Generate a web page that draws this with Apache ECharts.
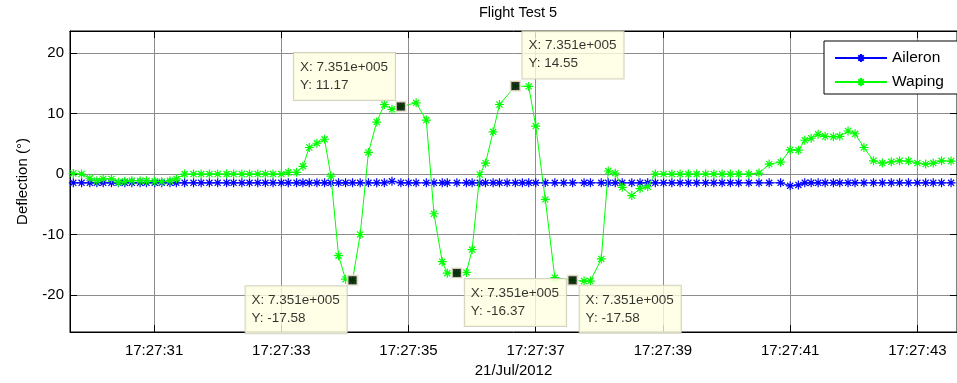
<!DOCTYPE html>
<html>
<head>
<meta charset="utf-8">
<title>Flight Test 5</title>
<script src="https://cdn.jsdelivr.net/npm/echarts@6/dist/echarts.min.js"></script>
<style>
  html, body { margin: 0; padding: 0; background: #ffffff; }
  #chart { width: 957px; height: 383px; }
</style>
</head>
<body>
<div id="chart"></div>
<script>
// Warping sample times, seconds after 17:27:00 on 21/Jul/2012
const wapingTimes = [
  29.73, 29.86, 29.99, 30.10, 30.20, 30.33, 30.44, 30.54, 30.65, 30.78,
  30.88, 31.01, 31.12, 31.25, 31.35, 31.48, 31.62, 31.74, 31.87, 32.00,
  32.14, 32.25, 32.38, 32.50, 32.63, 32.75, 32.87, 33.00, 33.11, 33.24,
  33.34, 33.44, 33.56, 33.68, 33.78, 33.90, 34.01, 34.12, 34.24, 34.37,
  34.50, 34.62, 34.74, 34.88, 35.12, 35.28, 35.40, 35.53, 35.61, 35.76,
  35.91, 36.00, 36.12, 36.21, 36.33, 36.43, 36.68, 36.89, 37.00, 37.15,
  37.30, 37.58, 37.76, 37.86, 38.03, 38.14, 38.25, 38.36, 38.51, 38.64,
  38.76, 38.88, 39.01, 39.14, 39.27, 39.40, 39.53, 39.67, 39.80, 39.93,
  40.06, 40.19, 40.35, 40.51, 40.67, 40.85, 41.00, 41.13, 41.23, 41.33,
  41.44, 41.55, 41.68, 41.78, 41.91, 42.02, 42.16, 42.31, 42.45, 42.59,
  42.72, 42.86, 43.00, 43.13, 43.25, 43.38, 43.53
];

// Warping deflection (degrees)
const waping = [
   0.10,  0.00, -0.70, -1.10, -0.80, -0.80, -1.36, -1.20, -1.10, -1.10,
  -1.10, -1.20, -1.27, -1.10, -0.80,  0.00,  0.00,  0.00,  0.00,  0.00,
   0.00,  0.00,  0.00,  0.00,  0.00,  0.00,  0.00,  0.00,  0.28,  0.28,
   1.27,  4.39,  5.09,  5.75, -0.33, -13.50, -17.40, -17.58, -10.00, 3.57,
   8.60, 11.50, 10.70, 11.17, 11.78,  8.92, -6.57, -14.50, -16.40, -16.37,
  -16.27, -12.50, -0.08,  1.80,  6.98, 11.50, 14.55, 14.50,  7.94, -4.19,
  -17.14, -17.58, -17.70, -17.70, -14.05,  0.50,  0.15, -2.20, -3.57, -2.40,
  -2.10,  0.00,  0.00,  0.00,  0.00,  0.00,  0.00,  0.00,  0.00,  0.00,
   0.00,  0.00,  0.00,  0.16,  1.64,  1.97,  3.99,  3.94,  5.59,  5.92,
   6.57,  6.24,  6.16,  6.24,  7.12,  6.66,  4.39,  2.19,  1.81,  2.02,
   2.19,  2.14,  1.81,  1.64,  1.81,  2.19,  2.14
];

// Aileron sample times (s after 17:27:00)
const aileronTimes = [
  29.73, 29.86, 29.99, 30.10, 30.20, 30.33, 30.44, 30.54, 30.65, 30.78,
  30.88, 31.01, 31.12, 31.25, 31.35, 31.48, 31.62, 31.74, 31.87, 32.00,
  32.14, 32.25, 32.38, 32.50, 32.63, 32.75, 32.87, 33.00, 33.11, 33.24,
  33.34, 33.44, 33.56, 33.68, 33.78, 33.90, 34.01, 34.12, 34.24, 34.37,
  34.50, 34.62, 34.74, 34.88, 35.00, 35.12, 35.28, 35.40, 35.53, 35.61,
  35.76, 35.91, 36.00, 36.12, 36.21, 36.33, 36.43, 36.55, 36.68, 36.79,
  36.89, 37.00, 37.15, 37.30, 37.44, 37.58, 37.76, 37.86, 38.03, 38.14,
  38.25, 38.36, 38.51, 38.64, 38.76, 38.88, 39.01, 39.14, 39.27, 39.40,
  39.53, 39.67, 39.80, 39.93, 40.06, 40.19, 40.35, 40.51, 40.67, 40.85,
  41.00, 41.13, 41.23, 41.33, 41.44, 41.55, 41.68, 41.78, 41.91, 42.02,
  42.16, 42.31, 42.45, 42.59, 42.72, 42.86, 43.00, 43.13, 43.25, 43.38,
  43.53
];

// Aileron deflection (degrees)
const aileron = [
  -1.45, -1.45, -1.45, -1.45, -1.45, -1.45, -1.45, -1.45, -1.45, -1.45,
  -1.45, -1.45, -1.45, -1.45, -1.45, -1.45, -1.45, -1.45, -1.45, -1.45,
  -1.45, -1.45, -1.45, -1.45, -1.45, -1.45, -1.45, -1.45, -1.45, -1.45,
  -1.45, -1.45, -1.45, -1.45, -1.45, -1.45, -1.45, -1.45, -1.45, -1.45,
  -1.45, -1.45, -1.20, -1.45, -1.45, -1.45, -1.45, -1.45, -1.45, -1.45,
  -1.45, -1.45, -1.45, -1.45, -1.45, -1.45, -1.45, -1.45, -1.45, -1.45,
  -1.45, -1.45, -1.45, -1.45, -1.45, -1.45, -1.45, -1.45, -1.45, -1.45,
  -1.45, -1.45, -1.45, -1.45, -1.45, -1.45, -1.45, -1.45, -1.45, -1.45,
  -1.45, -1.45, -1.45, -1.45, -1.45, -1.45, -1.45, -1.45, -1.45, -1.45,
  -1.95, -1.80, -1.45, -1.45, -1.45, -1.45, -1.45, -1.45, -1.45, -1.45,
  -1.45, -1.45, -1.45, -1.45, -1.45, -1.45, -1.45, -1.45, -1.45, -1.45,
  -1.45
];

// Data cursor readouts placed on the warping trace
const tipTimes  = [34.12, 34.88, 35.76, 36.68, 37.58];
const tipValues = [-17.58, 11.17, -16.37, 14.55, -17.58];
const tipXText  = '7.351e+005';
// Readout box offsets from each marker (px)
const tipOffsets = [[-101, 12], [-101, -47.5], [14, 12], [13, -48.5], [13, 11.5]];

// Axis ticks
const timeTicks = [31, 33, 35, 37, 39, 41, 43];
const timeTickLabels = ['17:27:31', '17:27:33', '17:27:35', '17:27:37', '17:27:39', '17:27:41', '17:27:43'];
const valueTicks = [-20, -10, 0, 10, 20];

const X_MIN = 29.678, X_MAX = 43.623;
const Y_MIN = -26.13, Y_MAX = 23.66;

const FONT = '"Liberation Sans", Arial, Helvetica, sans-serif';
const BLUE = '#0000ff';
const GREEN = '#00ff00';
const GRIDLINE = '#8c8c8c';

// Asterisk marker: horizontal, vertical and two diagonal strokes
const ASTERISK = 'path://M0,5L10,5M5,0L5,10M1.6,1.6L8.4,8.4M1.6,8.4L8.4,1.6';

const chart = echarts.init(document.getElementById('chart'), null, { renderer: 'canvas' });

const pairs = (xs, ys) => xs.map((x, i) => [x, ys[i]]);

const baseAxisTick = { show: true, inside: true, length: 7, lineStyle: { color: '#000', width: 1 } };

chart.setOption({
  animation: false,
  backgroundColor: '#ffffff',
  textStyle: { fontFamily: FONT },
  title: {
    text: 'Flight Test 5',
    left: 513, top: 0, textAlign: 'center',
    textStyle: { fontFamily: FONT, fontSize: 14.5, fontWeight: 'normal', color: '#000' }
  },
  legend: {
    orient: 'vertical',
    left: 824, top: 41,
    padding: [9, 17, 4, 10],
    itemGap: 8,
    itemWidth: 52,
    itemHeight: 10,
    backgroundColor: '#ffffff',
    borderColor: '#000000',
    borderWidth: 1,
    textStyle: { fontFamily: FONT, fontSize: 15.5, color: '#000' },
    data: ['Aileron', 'Waping']
  },
  grid: { left: 70, top: 31, width: 889, bottom: 49, show: true, borderColor: '#000', borderWidth: 1, backgroundColor: '#fff' },
  xAxis: [
    {
      type: 'value', min: X_MIN, max: X_MAX, position: 'bottom',
      name: '21/Jul/2012', nameLocation: 'middle', nameGap: 31,
      nameTextStyle: { fontFamily: FONT, fontSize: 15, color: '#000' },
      axisLine: { show: true, onZero: false, lineStyle: { color: '#000' } },
      axisTick: Object.assign({}, baseAxisTick, { customValues: timeTicks }),
      axisLabel: {
        customValues: timeTicks, margin: 11,
        fontFamily: FONT, fontSize: 15, color: '#000',
        formatter: v => timeTickLabels[timeTicks.indexOf(Math.round(v))] || ''
      },
      splitLine: { show: true, lineStyle: { color: GRIDLINE, width: 1 } }
    },
    {
      type: 'value', min: X_MIN, max: X_MAX, position: 'top',
      axisLine: { show: true, onZero: false, lineStyle: { color: '#000' } },
      axisTick: Object.assign({}, baseAxisTick, { customValues: timeTicks }),
      axisLabel: { show: false },
      splitLine: { show: false }
    }
  ],
  yAxis: [
    {
      type: 'value', min: Y_MIN, max: Y_MAX, position: 'left',
      name: 'Deflection (°)', nameLocation: 'middle', nameGap: 40, nameRotate: 90,
      nameTextStyle: { fontFamily: FONT, fontSize: 15, color: '#000' },
      axisLine: { show: true, onZero: false, lineStyle: { color: '#000' } },
      axisTick: Object.assign({}, baseAxisTick, { customValues: valueTicks }),
      axisLabel: { customValues: valueTicks, margin: 6, fontFamily: FONT, fontSize: 15, color: '#000' },
      splitLine: { show: true, lineStyle: { color: GRIDLINE, width: 1 } }
    },
    {
      type: 'value', min: Y_MIN, max: Y_MAX, position: 'right',
      axisLine: { show: true, onZero: false, lineStyle: { color: '#000' } },
      axisTick: Object.assign({}, baseAxisTick, { customValues: valueTicks }),
      axisLabel: { show: false },
      splitLine: { show: false }
    }
  ],
  series: [
    {
      name: 'Aileron', type: 'line',
      data: pairs(aileronTimes, aileron),
      symbol: ASTERISK, symbolSize: 9, showAllSymbol: true,
      lineStyle: { color: BLUE, width: 1 },
      itemStyle: { color: 'rgba(0,0,0,0)', borderColor: BLUE, borderWidth: 1.2 },
      emphasis: { disabled: true },
      z: 2
    },
    {
      name: 'Waping', type: 'line',
      data: pairs(wapingTimes, waping),
      symbol: ASTERISK, symbolSize: 9, showAllSymbol: true,
      lineStyle: { color: GREEN, width: 1 },
      itemStyle: { color: 'rgba(0,0,0,0)', borderColor: GREEN, borderWidth: 1.2 },
      emphasis: { disabled: true },
      z: 3
    },
    {
      name: 'Data cursor', type: 'scatter',
      data: tipTimes.map((t, i) => ({
        value: [t, tipValues[i]],
        label: { position: [tipOffsets[i][0], tipOffsets[i][1]] }
      })),
      symbol: 'rect', symbolSize: 10,
      itemStyle: { color: '#000', borderColor: '#f4f1d8', borderWidth: 2 },
      emphasis: { disabled: true },
      clip: false,
      z: 10,
      label: {
        show: true,
        formatter: p => 'X: ' + tipXText + '\nY: ' + p.value[1].toFixed(2),
        fontFamily: FONT, fontSize: 13.5, lineHeight: 18, color: '#000',
        backgroundColor: '#ffffe1', borderColor: '#c8c8b4', borderWidth: 1,
        padding: [5, 7, 6, 6], align: 'left', verticalAlign: 'top'
      }
    }
  ]
});
</script>
</body>
</html>
